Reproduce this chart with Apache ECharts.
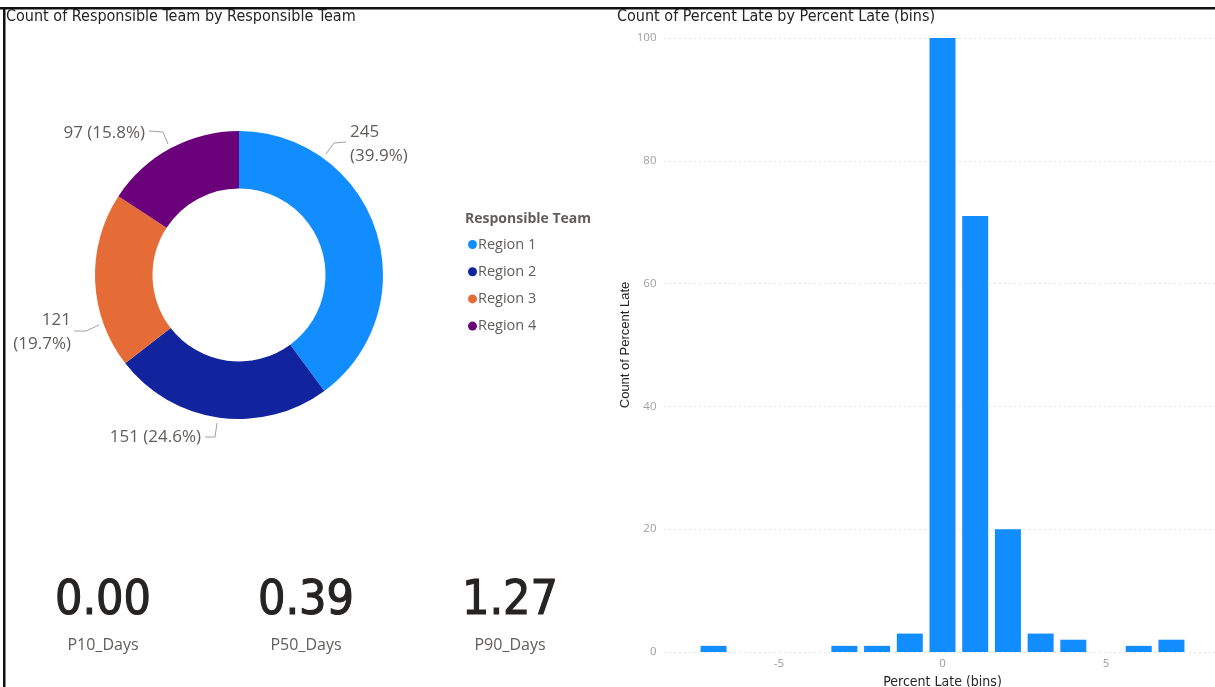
<!DOCTYPE html>
<html>
<head>
<meta charset="utf-8">
<script src="https://cdn.jsdelivr.net/npm/echarts@6/dist/echarts.min.js"></script>
<style>
html,body{margin:0;padding:0;background:#fff;}
#main{width:1215px;height:687px;}
</style>
</head>
<body>
<div id="main"></div>
<script>
// ---- data ----
const teamNames = ['Region 1', 'Region 2', 'Region 3', 'Region 4'];
const teamCounts = [245, 151, 121, 97];
const teamColors = ['#118DFF', '#12239E', '#E66C37', '#6B007B'];
const binCenters = [-7, -3, -2, -1, 0, 1, 2, 3, 4, 6, 7];
const binCounts = [1, 1, 1, 3, 100, 71, 20, 3, 2, 1, 2];
const kpiValues = ['0.00', '0.39', '1.27'];
const kpiLabels = ['P10_Days', 'P50_Days', 'P90_Days'];
const yTicks = [0, 20, 40, 60, 80, 100];

const TITLE_FONT = '"DejaVu Sans Condensed", Roboto, sans-serif';
const BODY_FONT = '"Open Sans", "Noto Sans", sans-serif';

const chart = echarts.init(document.getElementById('main'), null, {renderer: 'canvas'});

const wrapIdx = [0, 2]; // labels that wrap onto two lines
const pieData = teamNames.map((n, i) => ({
  name: n,
  value: teamCounts[i],
  itemStyle: {color: teamColors[i]},
  label: {formatter: wrapIdx.includes(i) ? '{c}\n({d}%)' : '{c} ({d}%)'}
}));

// label placement (layout only), per slice: text anchor + leader line
const labelPlace = [
  {x: 350, y: 144, align: 'left', pts: [[326, 154], [334, 143], [346, 142]]},
  {x: 201, y: 437, align: 'right', pts: [[217, 423], [215, 437], [205, 437]]},
  {x: 71, y: 332, align: 'right', pts: [[99, 325], [86, 331], [74, 331]]},
  {x: 145, y: 133, align: 'right', pts: [[168, 144], [163, 132], [149, 131]]}
];

const kpiX = [103, 306, 510];
const graphics = [
  {type: 'rect', shape: {x: 0, y: 7, width: 1215, height: 2.5}, style: {fill: '#111'}},
  {type: 'rect', shape: {x: 3, y: 7, width: 2.5, height: 680}, style: {fill: '#111'}},
  {type: 'text', left: 6, top: 9, style: {text: 'Count of Responsible Team by Responsible Team', font: '16px ' + TITLE_FONT, fill: '#252423'}},
  {type: 'text', left: 617, top: 9, style: {text: 'Count of Percent Late by Percent Late (bins)', font: '16px ' + TITLE_FONT, fill: '#252423'}},
  {type: 'text', left: 465, top: 212, style: {text: 'Responsible Team', font: 'bold 14px ' + BODY_FONT, fill: '#605E5C'}}
];
kpiValues.forEach((v, i) => {
  graphics.push({type: 'text', x: kpiX[i], y: 602, style: {text: v, font: '48px ' + TITLE_FONT, fill: '#252423', stroke: '#252423', lineWidth: 1.1, align: 'center', verticalAlign: 'middle'}});
  graphics.push({type: 'text', x: kpiX[i], y: 645, style: {text: kpiLabels[i], font: '16px ' + BODY_FONT, fill: '#605E5C', align: 'center', verticalAlign: 'middle'}});
});

const option = {
  animation: false,
  backgroundColor: '#fff',
  legend: {
    orient: 'vertical',
    left: 463,
    top: 232,
    itemGap: 12.2,
    icon: 'circle',
    itemWidth: 9,
    itemHeight: 9,
    data: teamNames,
    textStyle: {fontFamily: BODY_FONT, fontSize: 14.5, color: '#605E5C', padding: [0, 0, 0, -4]}
  },
  grid: {left: 664.5, right: -5.5, top: 38, bottom: 35, containLabel: false, outerBoundsMode: 'none'},
  xAxis: {
    type: 'value',
    min: -8.5,
    max: 8.5,
    splitNumber: 3,
    axisLine: {show: false},
    axisTick: {show: false},
    splitLine: {show: false},
    axisLabel: {
      color: '#999', fontSize: 11.5, fontFamily: BODY_FONT, margin: 6,
      formatter: v => (Math.abs(v % 5) < 1e-9 ? String(v) : '')
    },
    name: 'Percent Late (bins)',
    nameLocation: 'middle',
    nameGap: 23,
    nameTextStyle: {color: '#252423', fontSize: 14, fontFamily: TITLE_FONT}
  },
  yAxis: {
    type: 'value',
    min: yTicks[0],
    max: yTicks[yTicks.length - 1],
    interval: yTicks[1] - yTicks[0],
    axisLine: {show: false},
    axisTick: {show: false},
    axisLabel: {color: '#a0a0a0', fontSize: 11.5, fontFamily: BODY_FONT, margin: 8},
    splitLine: {lineStyle: {color: '#c8c8c8', type: [1, 4], width: 1}},
    name: 'Count of Percent Late',
    nameLocation: 'middle',
    nameGap: 33,
    nameTextStyle: {color: '#252423', fontSize: 13, fontFamily: '"Liberation Sans", Arial, sans-serif'}
  },
  series: [
    {
      type: 'pie',
      center: [239, 275],
      radius: [86.5, 144],
      startAngle: 90,
      clockwise: true,
      percentPrecision: 1,
      legendHoverLink: false,
      data: pieData,
      label: {
        show: true,
        position: 'outside',
        color: '#605E5C',
        fontSize: 17,
        fontFamily: BODY_FONT,
        lineHeight: 24,
        overflow: 'none'
      },
      labelLine: {show: true, length: 12, length2: 12, lineStyle: {color: '#a0a0a0', width: 1}},
      labelLayout: function (p) {
        const L = labelPlace[p.dataIndex];
        return {x: L.x, y: L.y, align: L.align, verticalAlign: 'middle', labelLinePoints: L.pts};
      }
    },
    {
      type: 'bar',
      data: binCenters.map((c, i) => [c, binCounts[i]]),
      barWidth: 26,
      itemStyle: {color: '#118DFF'}
    }
  ],
  graphic: graphics
};
chart.setOption(option);
</script>
</body>
</html>
